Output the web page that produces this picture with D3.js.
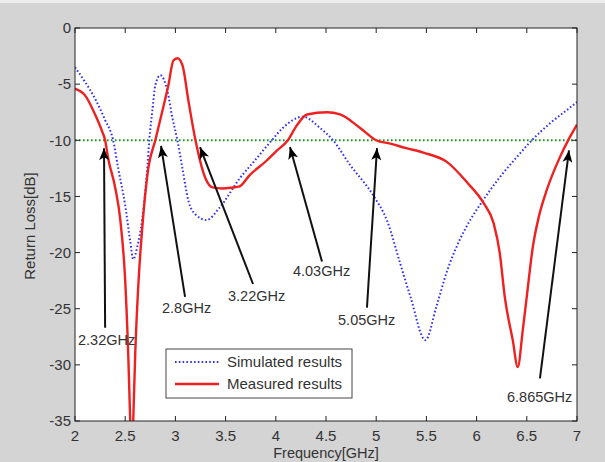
<!DOCTYPE html>
<html><head><meta charset="utf-8">
<script src="https://cdn.jsdelivr.net/npm/d3@7"></script>
<style>
body{margin:0;background:#d4d4d4;}
svg{display:block;}
text{font-family:"Liberation Sans",Arial,sans-serif;}
</style></head>
<body>
<svg id="c" width="605" height="462"></svg>
<script>
// ---- data ----
const measuredFreq = [2.00,2.10,2.20,2.27,2.30,2.33,2.40,2.45,2.50,2.53,2.55,2.565,2.58,2.60,2.63,2.67,2.73,2.80,2.87,2.93,2.98,3.02,3.07,3.13,3.20,3.30,3.37,3.47,3.57,3.64,3.74,3.91,4.00,4.12,4.20,4.31,4.51,4.64,4.84,5.00,5.14,5.30,5.47,5.70,5.91,6.07,6.17,6.23,6.28,6.36,6.41,6.46,6.50,6.56,6.62,6.70,6.83,6.93,7.00];
const measuredDb   = [-5.4,-6.0,-7.7,-9.2,-10.0,-11.6,-14.2,-17.0,-22.5,-29.0,-35.0,-39.0,-35.0,-29.0,-23.0,-17.8,-12.5,-10.0,-7.4,-5.1,-2.9,-2.7,-3.3,-6.5,-10.0,-13.4,-14.2,-14.3,-14.2,-14.1,-13.1,-11.8,-11.0,-10.0,-8.8,-7.7,-7.5,-7.7,-8.9,-10.0,-10.3,-10.7,-11.1,-11.9,-13.8,-15.6,-17.4,-20.0,-23.9,-27.8,-30.2,-26.9,-23.9,-19.5,-16.8,-14.4,-11.5,-9.7,-8.6];
const simFreq = [2.00,2.10,2.20,2.30,2.38,2.43,2.50,2.55,2.58,2.62,2.67,2.72,2.74,2.77,2.80,2.85,2.92,2.97,3.02,3.07,3.13,3.20,3.31,3.44,3.64,3.81,3.96,4.07,4.27,4.44,4.57,4.74,4.97,5.11,5.24,5.34,5.49,5.60,5.70,5.83,5.95,6.06,6.23,6.40,6.55,6.73,6.90,7.00];
const simDb   = [-3.5,-4.8,-6.3,-8.2,-10.0,-12.5,-15.8,-19.0,-20.6,-19.5,-17.0,-12.5,-10.0,-7.4,-5.1,-4.2,-5.6,-8.0,-10.0,-12.5,-15.4,-16.6,-17.1,-16.0,-13.4,-11.6,-10.0,-8.9,-7.9,-8.9,-10.0,-12.2,-14.9,-17.2,-21.0,-23.9,-27.8,-24.8,-21.8,-18.9,-16.9,-15.4,-13.3,-11.5,-10.0,-8.5,-7.3,-6.6];
const refLevel = -10;
const xTicks = [2,2.5,3,3.5,4,4.5,5,5.5,6,6.5,7];
const yTicks = [0,-5,-10,-15,-20,-25,-30,-35];
const seriesNames = ["Simulated results","Measured results"];
// annotations: arrow tip / tail (freq, dB) and label anchor
const annLabels = ["2.32GHz","2.8GHz","3.22GHz","4.03GHz","5.05GHz","6.865GHz"];
const annTipF  = [2.289,2.857,3.245,4.141,5.008,6.920];
const annTipDb = [-10.7,-10.5,-10.6,-10.6,-10.7,-10.9];
const annTailF = [2.300,3.096,3.773,4.460,4.908,6.631];
const annTailDb= [-26.7,-23.95,-22.8,-20.8,-24.9,-31.2];
const annTextF = [2.03,2.867,3.524,4.171,4.62,6.303];
const annTextDb= [-27.8,-24.9,-23.9,-21.6,-26.0,-32.9];

// ---- layout ----
const L=75,R=577,T=28,B=421;
const svg=d3.select("#c");
svg.append("rect").attr("x",0).attr("y",0).attr("width",605).attr("height",3).attr("fill","#ececec");
const x=d3.scaleLinear().domain([2,7]).range([L,R]);
const y=d3.scaleLinear().domain([-35,0]).range([B,T]);

svg.append("rect").attr("x",L).attr("y",T).attr("width",R-L).attr("height",B-T).attr("fill","#fff");
const defs=svg.append("defs");
defs.append("clipPath").attr("id","clip").append("rect")
  .attr("x",L).attr("y",T).attr("width",R-L).attr("height",B-T);
defs.append("marker").attr("id","ah").attr("viewBox","0 0 12 10").attr("refX",12).attr("refY",5)
  .attr("markerWidth",12).attr("markerHeight",10).attr("markerUnits","userSpaceOnUse").attr("orient","auto")
  .append("path").attr("d","M0,0 L12,5 L0,10 L3,5 Z").attr("fill","#000");

const g=svg.append("g").attr("clip-path","url(#clip)");
// reference line
g.append("line").attr("x1",x(2)).attr("x2",x(7)).attr("y1",y(refLevel)).attr("y2",y(refLevel))
  .attr("stroke","#1a9a1a").attr("stroke-width",2).attr("stroke-dasharray","1.6,2.4");

const line=d3.line().x(d=>x(d[0])).y(d=>y(d[1])).curve(d3.curveMonotoneX);
g.append("path").datum(simFreq.map((f,i)=>[f,simDb[i]])).attr("d",line)
  .attr("fill","none").attr("stroke","#3434ee").attr("stroke-width",2).attr("stroke-dasharray","1.6,2.2");
g.append("path").datum(measuredFreq.map((f,i)=>[f,measuredDb[i]])).attr("d",line)
  .attr("fill","none").attr("stroke","#ee2020").attr("stroke-width",2.4);

// arrows
annLabels.forEach((lab,i)=>{
  svg.append("line").attr("x1",x(annTailF[i])).attr("y1",y(annTailDb[i]))
    .attr("x2",x(annTipF[i])).attr("y2",y(annTipDb[i]))
    .attr("stroke","#111").attr("stroke-width",2).attr("marker-end","url(#ah)");
  svg.append("text").attr("x",x(annTextF[i])).attr("y",y(annTextDb[i])).attr("dy","0.35em")
    .attr("font-size",14.5).attr("fill","#333").text(lab);
});

// axes frame
svg.append("rect").attr("x",L).attr("y",T).attr("width",R-L).attr("height",B-T)
  .attr("fill","none").attr("stroke","#222").attr("stroke-width",1);
const tk=5;
xTicks.forEach(v=>{
  svg.append("line").attr("x1",x(v)).attr("x2",x(v)).attr("y1",B).attr("y2",B-tk).attr("stroke","#222");
  svg.append("line").attr("x1",x(v)).attr("x2",x(v)).attr("y1",T).attr("y2",T+tk).attr("stroke","#222");
  svg.append("text").attr("x",x(v)).attr("y",441).attr("text-anchor","middle")
    .attr("font-size",15).attr("fill","#333").text(v);
});
yTicks.forEach(v=>{
  svg.append("line").attr("x1",L).attr("x2",L+tk).attr("y1",y(v)).attr("y2",y(v)).attr("stroke","#222");
  svg.append("line").attr("x1",R).attr("x2",R-tk).attr("y1",y(v)).attr("y2",y(v)).attr("stroke","#222");
  svg.append("text").attr("x",71).attr("y",y(v)).attr("dy","0.35em").attr("text-anchor","end")
    .attr("font-size",15).attr("fill","#333").text(v);
});
svg.append("text").attr("x",(L+R)/2).attr("y",457.5).attr("text-anchor","middle")
  .attr("font-size",14.5).attr("fill","#333").text("Frequency[GHz]");
svg.append("text").attr("transform","translate(35,226) rotate(-90)").attr("text-anchor","middle")
  .attr("font-size",15).attr("fill","#333").text("Return Loss[dB]");

// legend
const lg=svg.append("g");
lg.append("rect").attr("x",166).attr("y",349).attr("width",186).attr("height",49)
  .attr("fill","#fff").attr("stroke","#444").attr("stroke-width",1);
lg.append("line").attr("x1",175).attr("x2",219).attr("y1",362).attr("y2",362)
  .attr("stroke","#3434ee").attr("stroke-width",2).attr("stroke-dasharray","1.6,2.2");
lg.append("line").attr("x1",175).attr("x2",219).attr("y1",384).attr("y2",384)
  .attr("stroke","#ee2020").attr("stroke-width",2.4);
lg.append("text").attr("x",227).attr("y",362).attr("dy","0.35em").attr("font-size",15).attr("fill","#333").text(seriesNames[0]);
lg.append("text").attr("x",227).attr("y",384).attr("dy","0.35em").attr("font-size",15).attr("fill","#333").text(seriesNames[1]);
</script>
</body></html>
